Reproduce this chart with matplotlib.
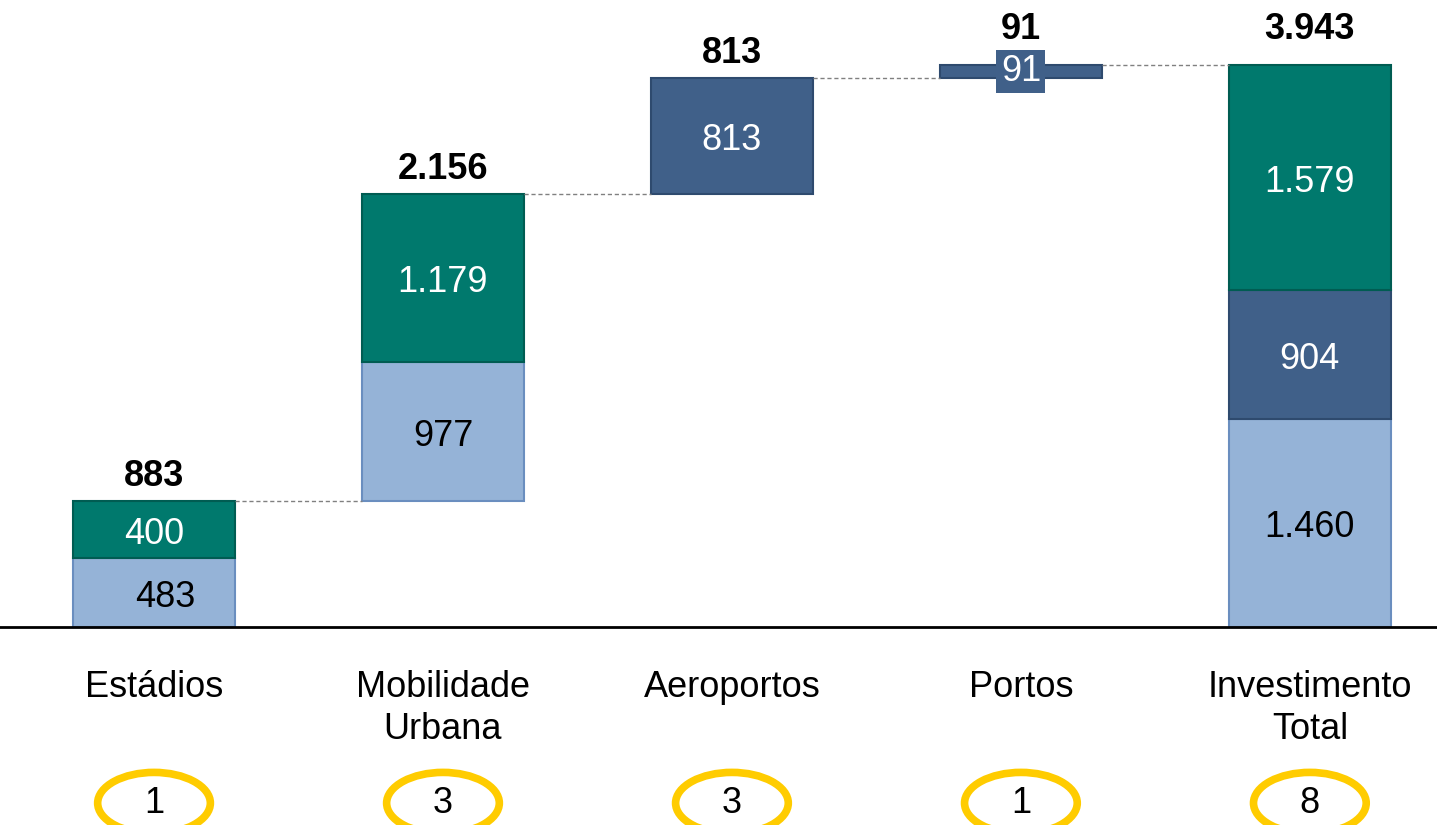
import matplotlib
matplotlib.use("Agg")
import matplotlib.pyplot as plt
from matplotlib.patches import Ellipse

plt.rcParams['font.family'] = ['Liberation Sans', 'DejaVu Sans']

categories = ["Estádios", "Mobilidade\nUrbana", "Aeroportos", "Portos", "Investimento\nTotal"]
light = [483, 977, 0, 0, 1460]
dark = [0, 0, 813, 91, 904]
teal = [400, 1179, 0, 0, 1579]
totals = ["883", "2.156", "813", "91", "3.943"]
counts = ["1", "3", "3", "1", "8"]

c_light, e_light = "#95B3D7", "#6A8EBF"
c_dark, e_dark = "#406089", "#2E4A6E"
c_teal, e_teal = "#00796D", "#005C52"


def fmt(v):
    return f"{v:,}".replace(",", ".")


fig = plt.figure(figsize=(14.37, 8.25), dpi=100)
ax = fig.add_axes([0, 0, 1, 1])
ax.set_xlim(-0.533, 4.44)
ax.set_ylim(-1389, 4399)
ax.axis("off")

w = 0.56
bases = []
acc = 0
for i in range(len(categories)):
    s = light[i] + dark[i] + teal[i]
    base = 0 if i == len(categories) - 1 else acc
    bases.append(base)
    acc += s

tops = []
for i in range(len(categories)):
    b = bases[i]
    segs = [(light[i], c_light, e_light, "black"),
            (dark[i], c_dark, e_dark, "white"),
            (teal[i], c_teal, e_teal, "white")]
    for k, (val, fc, ec, tc) in enumerate(segs):
        if val == 0:
            continue
        ax.bar(i, val, bottom=b, width=w, color=fc, edgecolor=ec, linewidth=1.5)
        if val > 300:
            # first light segment label sits a bit right in the original
            dx = 0.04 if (i == 0 and k == 0) else 0
            ax.text(i + dx, b + val / 2 - 35, fmt(val), ha="center", va="center",
                    fontsize=26, color=tc)
        else:
            ax.text(i, b + val / 2, fmt(val), ha="center", va="center",
                    fontsize=26, color="white",
                    bbox=dict(boxstyle="square,pad=0.12", fc=c_dark, ec="none"))
        b += val
    tops.append(b)
    gap = 185 if i >= 3 else 105
    ax.text(i, b + gap, totals[i], ha="center", va="baseline", fontsize=26,
            fontweight="bold")

# connectors
for i in range(len(categories) - 1):
    ax.plot([i + w / 2, i + 1 - w / 2], [tops[i], tops[i]], ls="--",
            color="#808080", lw=1, dashes=(3, 2))

ax.axhline(0, color="black", lw=2)

for i, (cat, n) in enumerate(zip(categories, counts)):
    ax.text(i, -300, cat, ha="center", va="top", fontsize=26,
            linespacing=1.27)
    ax.add_patch(Ellipse((i, -1235), 0.39, 430, fill=False,
                         edgecolor="#FFCC00", lw=5.5))
    ax.text(i, -1235, n, ha="center", va="center", fontsize=26)

fig.savefig("out.png", dpi=100)
